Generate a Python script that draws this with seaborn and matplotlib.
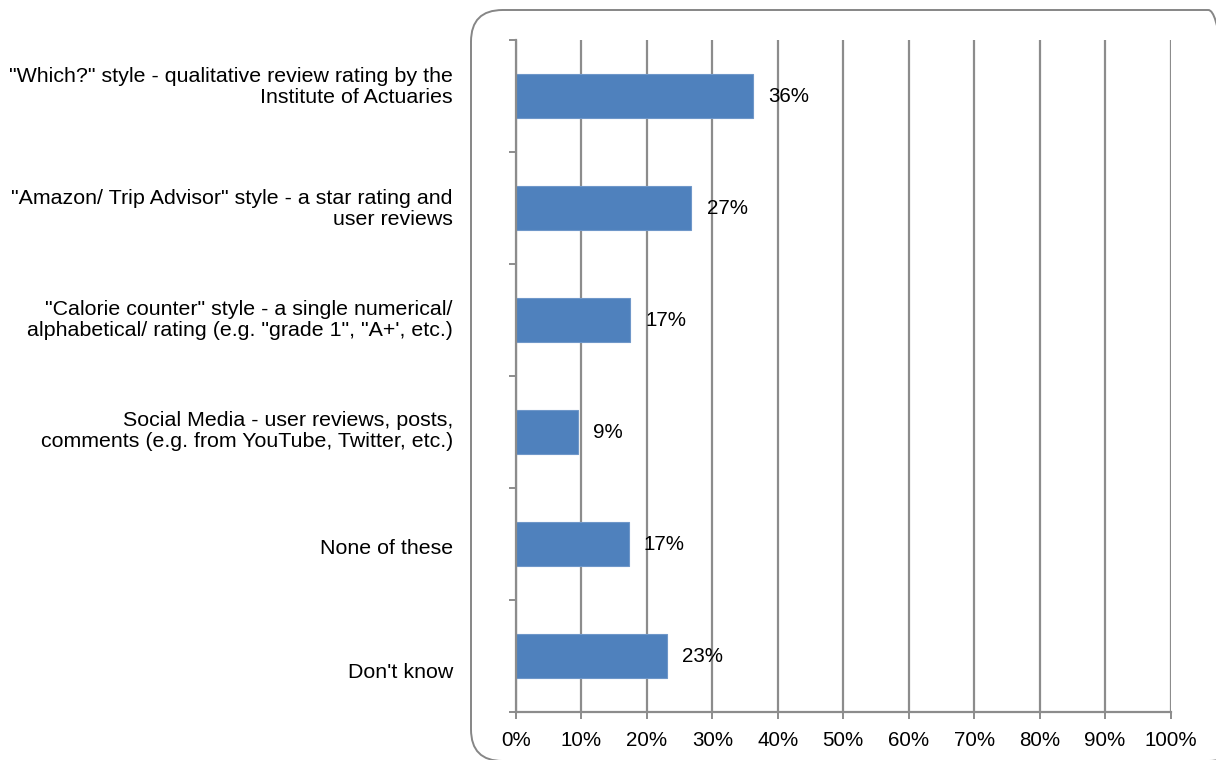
import matplotlib
matplotlib.use("Agg")
import matplotlib.pyplot as plt
import matplotlib.transforms as mtransforms
from matplotlib.patches import FancyBboxPatch
from matplotlib.ticker import FixedLocator, PercentFormatter
import numpy as np
import pandas as pd
import seaborn as sns

# Survey answers and share of respondents (%)
categories = [
    "\"Which?\" style - qualitative review rating by the\nInstitute of Actuaries",
    "\"Amazon/ Trip Advisor\" style - a star rating and\nuser reviews",
    "\"Calorie counter\" style - a single numerical/\nalphabetical/ rating (e.g. \"grade 1\", \"A+', etc.)",
    "Social Media - user reviews, posts,\ncomments (e.g. from YouTube, Twitter, etc.)",
    "None of these",
    "Don't know",
]
shares = [36.2, 26.8, 17.4, 9.4, 17.2, 23.1]
x_ticks = list(range(0, 101, 10))

# vertical nudges (pixels, + = down) applied to the category labels
label_nudge_px = [-12, -2, -3, -4, 3, 14]

df = pd.DataFrame({"answer": categories, "share": shares})

sns.set_theme(style="white")
plt.rcParams["font.family"] = ["Liberation Sans", "DejaVu Sans"]

BAR = "#4F81BD"
GRID = "#8C8C8C"
FS = 14.8
FS_CAT = 15.4

fig = plt.figure(figsize=(12.16, 7.6), dpi=100)
fig.patch.set_facecolor("white")

# rounded plot-area frame
frame = FancyBboxPatch(
    (471 / 1216, (760 - 761) / 760), (1240 - 471) / 1216, (761 - 10) / 760,
    boxstyle="round,pad=0,rounding_size=0.026",
    transform=fig.transFigure, facecolor="none", edgecolor="#868686",
    linewidth=1.4, mutation_aspect=1216 / 760, zorder=0,
)
fig.patches.append(frame)

ax = fig.add_axes([516 / 1216, (760 - 712) / 760, (1170.5 - 516) / 1216, (712 - 40) / 760])
ax.set_facecolor("none")

sns.barplot(data=df, x="share", y="answer", orient="h", color=BAR,
            width=0.4, saturation=1, edgecolor="#6F97C9", linewidth=0.8,
            ax=ax, zorder=3)

ax.set_xlim(0, 100)
ax.set_ylim(len(categories) - 0.5, -0.5)
ax.set_xlabel("")
ax.set_ylabel("")

# x axis: percentages with vertical gridlines
ax.xaxis.set_major_locator(FixedLocator(x_ticks))
ax.xaxis.set_major_formatter(PercentFormatter(decimals=0))
ax.grid(axis="x", color=GRID, linewidth=1.6, zorder=0)
ax.grid(axis="y", visible=False)
ax.tick_params(axis="x", which="major", direction="out", length=5, width=1.4,
               color=GRID, pad=8.5, labelsize=FS, labelcolor="black", bottom=True)

# y axis: labels at category centres, tick marks on category boundaries
ax.yaxis.set_minor_locator(FixedLocator(np.arange(-0.5, len(categories), 1.0)))
ax.tick_params(axis="y", which="major", length=0, pad=45.5, labelsize=FS_CAT,
               labelcolor="black")
ax.tick_params(axis="y", which="minor", direction="out", length=5, width=1.4,
               color=GRID, left=True)

for lbl, dy in zip(ax.get_yticklabels(), label_nudge_px):
    lbl.set_horizontalalignment("right")
    lbl.set_multialignment("right")
    lbl.set_linespacing(1.15)
    lbl.set_transform(lbl.get_transform() + mtransforms.ScaledTranslation(0, -dy / 100, fig.dpi_scale_trans))

for side in ["top", "right"]:
    ax.spines[side].set_visible(False)
for side in ["left", "bottom"]:
    ax.spines[side].set_color(GRID)
    ax.spines[side].set_linewidth(1.6)
    ax.spines[side].set_zorder(4)

# value labels just past each bar end
for i, v in enumerate(shares):
    ax.annotate(f"{v:.0f}%", xy=(v, i), xytext=(11, 0), textcoords="offset points",
                ha="left", va="center", fontsize=FS, color="black", zorder=5)

fig.savefig("out.png", dpi=100, facecolor="white")
